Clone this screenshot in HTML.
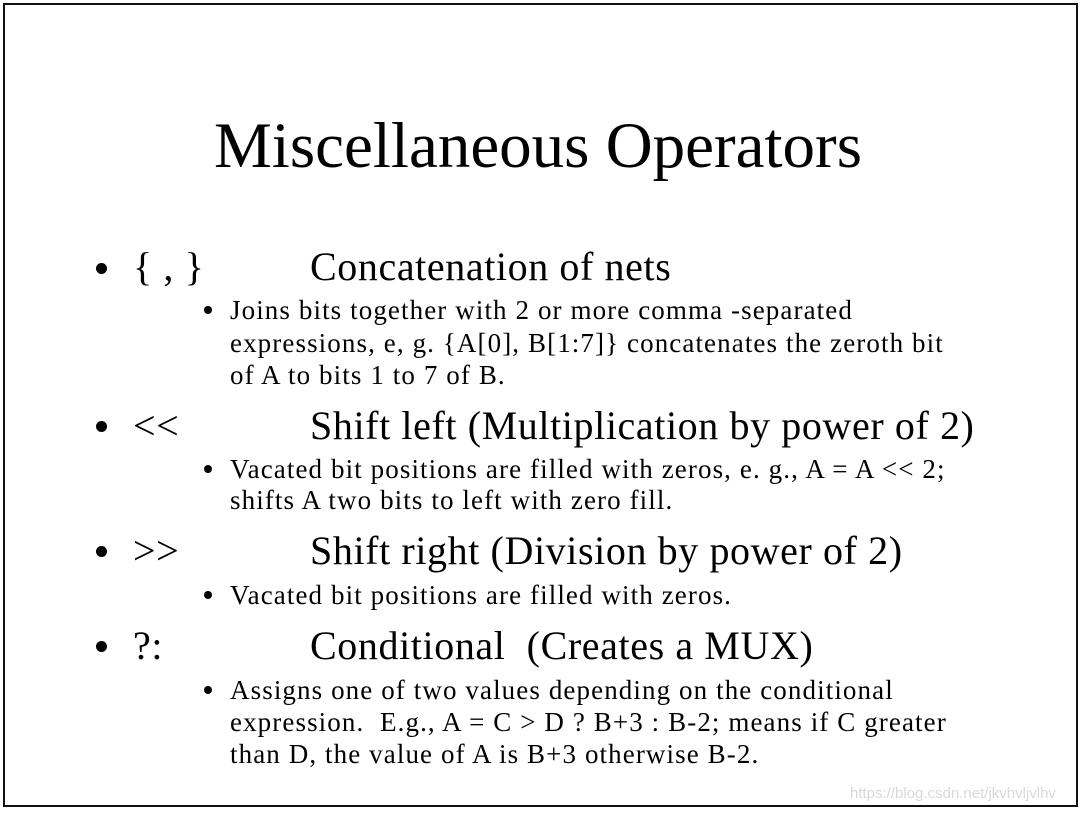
<!DOCTYPE html>
<html><head><meta charset="utf-8"><style>
body{margin:0;width:1080px;height:813px;background:#fff;position:relative;overflow:hidden;font-family:"Liberation Serif",serif;color:#000}
.b{position:absolute;left:3px;top:3px;width:1071px;height:800px;border:2px solid #111}
.t{position:absolute;white-space:nowrap;line-height:1}
.l1{font-size:40px;letter-spacing:0.6px}
.l2{font-size:27px;letter-spacing:1.1px}
.d1{position:absolute;width:11px;height:11px;border-radius:50%;background:#000}
.d2{position:absolute;width:8px;height:8px;border-radius:50%;background:#000}
</style></head><body>
<div class="b"></div>
<div class="t" style="left:214px;top:114px;font-size:65px">Miscellaneous Operators</div>

<div class="d1" style="left:96px;top:263px"></div>
<div class="t l1" style="left:133px;top:247px">{ , }</div>
<div class="t l1" style="left:310px;top:247px">Concatenation of nets</div>
<div class="d2" style="left:204px;top:306px"></div>
<div class="t l2" style="left:230px;top:297px">Joins bits together with 2 or more comma -separated</div>
<div class="t l2" style="left:230px;top:330px">expressions, e, g. {A[0], B[1:7]} concatenates the zeroth bit</div>
<div class="t l2" style="left:230px;top:362px">of A to bits 1 to 7 of B.</div>

<div class="d1" style="left:96px;top:421px"></div>
<div class="t l1" style="left:133px;top:406px">&lt;&lt;</div>
<div class="t l1" style="left:310px;top:406px">Shift left (Multiplication by power of 2)</div>
<div class="d2" style="left:204px;top:465px"></div>
<div class="t l2" style="left:230px;top:456px">Vacated bit positions are filled with zeros, e. g., A = A &lt;&lt; 2;</div>
<div class="t l2" style="left:230px;top:487px">shifts A two bits to left with zero fill.</div>

<div class="d1" style="left:96px;top:546px"></div>
<div class="t l1" style="left:133px;top:531px">&gt;&gt;</div>
<div class="t l1" style="left:310px;top:531px">Shift right (Division by power of 2)</div>
<div class="d2" style="left:204px;top:591px"></div>
<div class="t l2" style="left:230px;top:582px">Vacated bit positions are filled with zeros.</div>

<div class="d1" style="left:96px;top:641px"></div>
<div class="t l1" style="left:133px;top:626px">?:</div>
<div class="t l1" style="left:310px;top:626px">Conditional&nbsp; (Creates a MUX)</div>
<div class="d2" style="left:204px;top:686px"></div>
<div class="t l2" style="left:230px;top:677px">Assigns one of two values depending on the conditional</div>
<div class="t l2" style="left:230px;top:709px">expression.&nbsp; E.g., A = C &gt; D ? B+3 : B-2; means if C greater</div>
<div class="t l2" style="left:230px;top:741px">than D, the value of A is B+3 otherwise B-2.</div>

<div class="t" style="left:850px;top:786px;font-size:15px;font-family:'Liberation Sans',sans-serif;color:#d8d8d8">https://blog.csdn.net/jkvhvljvlhv</div>
</body></html>
